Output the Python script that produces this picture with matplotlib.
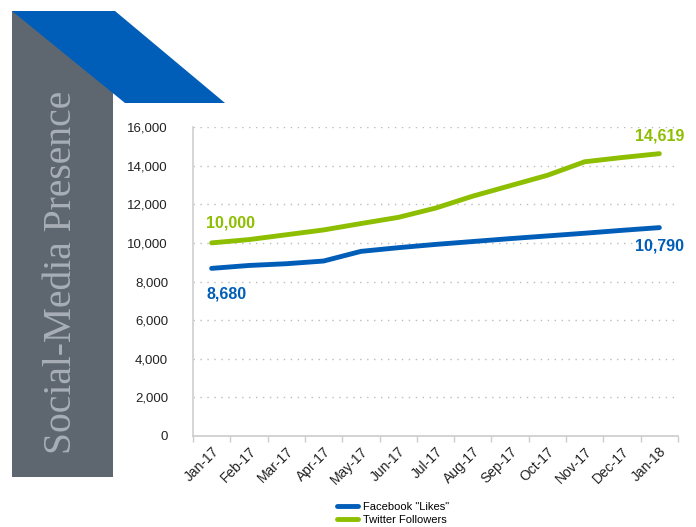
import matplotlib.pyplot as plt
import matplotlib.patches as mpatches
from matplotlib.ticker import FuncFormatter, MultipleLocator
import numpy as np

months = ['Jan-17', 'Feb-17', 'Mar-17', 'Apr-17', 'May-17', 'Jun-17', 'Jul-17',
          'Aug-17', 'Sep-17', 'Oct-17', 'Nov-17', 'Dec-17', 'Jan-18']
facebook = [8680, 8830, 8920, 9060, 9560, 9750, 9920, 10070, 10220, 10360, 10500, 10650, 10790]
twitter = [10000, 10170, 10420, 10670, 11000, 11320, 11800, 12420, 12960, 13500, 14200, 14420, 14619]

BLUE = '#005EB8'
GREEN = '#8DBE00'
GRAY = '#5E6770'

plt.rcParams['font.family'] = ['Liberation Sans', 'DejaVu Sans']

fig = plt.figure(figsize=(6.96, 5.27), dpi=100)
W, H = 696, 527

# --- decorative panel and banner (figure pixel coords) ---
bg = fig.add_axes([0, 0, 1, 1])
bg.set_xlim(0, W); bg.set_ylim(H, 0); bg.axis('off')
bg.add_patch(mpatches.Rectangle((12, 11), 101, 466, color=GRAY, lw=0))
bg.add_patch(mpatches.Polygon([(12, 11), (115, 11), (225, 103), (125, 103)],
                              closed=True, color=BLUE, lw=0))
bg.text(62, 272, 'Social-Media Presence', rotation=90, ha='center', va='center',
        fontsize=28.5, color='#A7AEB5', family=['Liberation Serif', 'DejaVu Serif'])

# --- chart ---
ax = fig.add_axes([193 / W, 1 - 436 / H, (678 - 193) / W, (436 - 127) / H])
x = np.arange(len(months))
ax.plot(x, facebook, color=BLUE, lw=3.5, solid_capstyle='round', label='Facebook "Likes"')
ax.plot(x, twitter, color=GREEN, lw=3.5, solid_capstyle='round', label='Twitter Followers')

ax.set_xlim(-0.5, len(months) - 0.5)
ax.set_ylim(0, 16000)
ax.yaxis.set_major_locator(MultipleLocator(2000))
ax.yaxis.set_major_formatter(FuncFormatter(lambda v, p: f'{int(v):,}'))
ax.grid(axis='y', linestyle=(0, (1, 4)), color='#BBBBBB', lw=1)
ax.set_axisbelow(True)

ax.set_xticks(x)
ax.set_xticklabels(months, rotation=45, ha='right', rotation_mode='anchor')
ax.set_xticks(np.arange(-0.5, len(months)), minor=True)
ax.tick_params(axis='x', which='major', length=0, pad=6, labelsize=10, colors='#222222')
ax.tick_params(axis='x', which='minor', length=4, color='#CCCCCC', width=1)
ax.tick_params(axis='y', length=0, pad=18, labelsize=9.5, colors='#222222')

for s in ['top', 'right']:
    ax.spines[s].set_visible(False)
ax.spines['left'].set_color('#D0D0D0')
ax.spines['bottom'].set_color('#CCCCCC')
ax.spines['left'].set_linewidth(1.2)
ax.spines['bottom'].set_linewidth(1.2)

lab = dict(fontsize=11.5, fontweight='bold')
ax.annotate(f'{twitter[0]:,}', (0, twitter[0]), xytext=(-4, 9), textcoords='offset points',
            ha='left', va='bottom', color=GREEN, **lab)
ax.annotate(f'{facebook[0]:,}', (0, facebook[0]), xytext=(-4, -13), textcoords='offset points',
            ha='left', va='top', color=BLUE, **lab)
ax.annotate(f'{twitter[-1]:,}', (x[-1], twitter[-1]), xytext=(18, 7), textcoords='offset points',
            ha='right', va='bottom', color=GREEN, **lab)
ax.annotate(f'{facebook[-1]:,}', (x[-1], facebook[-1]), xytext=(18, -8), textcoords='offset points',
            ha='right', va='top', color=BLUE, **lab)

fig.legend(loc='upper left', bbox_to_anchor=(337 / W, 1 - 502 / H), frameon=False,
           fontsize=8, handlelength=1.9, labelspacing=0.3, handletextpad=0.4,
           borderaxespad=0, borderpad=0)

fig.savefig('out.png', dpi=100)
